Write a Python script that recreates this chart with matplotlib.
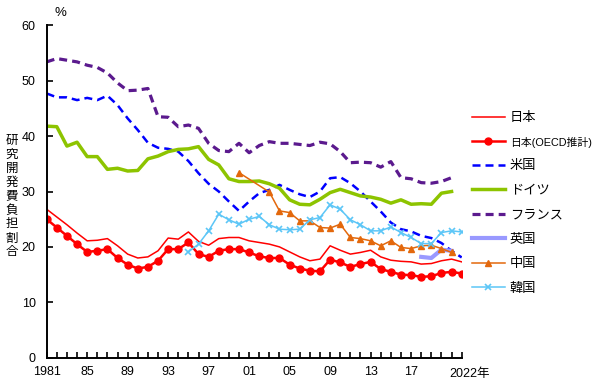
import matplotlib

matplotlib.use("Agg")
import matplotlib.pyplot as plt
import numpy as np

plt.rcParams["font.family"] = ["Liberation Sans", "Noto Sans CJK JP"]

YEARS = list(range(1981, 2023))

JAPAN = [26.8, 25.4, 24.0, 22.5, 21.1, 21.2, 21.5, 20.2, 18.7, 18.0, 18.2, 19.3, 21.6, 21.4,
         22.7, 21.0, 20.3, 21.5, 21.7, 21.7, 21.1, 20.8, 20.5, 20.0, 19.1, 18.2, 17.5, 17.8,
         20.2, 19.4, 18.7, 19.0, 19.4, 18.2, 17.6, 17.4, 17.3, 16.9, 17.0, 17.5, 17.8, 17.3]
JAPAN_OECD = [25.0, 23.5, 22.0, 20.5, 19.1, 19.3, 19.6, 18.0, 16.8, 16.1, 16.4, 17.5, 19.6, 19.6,
              20.8, 18.7, 18.2, 19.3, 19.6, 19.6, 19.0, 18.3, 18.0, 18.0, 16.8, 16.1, 15.7, 15.6,
              17.7, 17.2, 16.4, 16.9, 17.3, 16.0, 15.5, 15.0, 14.9, 14.6, 14.7, 15.3, 15.5, 15.2]
USA = [47.7, 47.0, 47.0, 46.5, 46.9, 46.5, 47.3, 45.6, 43.2, 41.1, 38.8, 37.9, 37.7, 37.2,
       35.5, 33.3, 31.4, 30.0, 28.2, 26.5, 28.2, 29.7, 30.3, 31.2, 30.3, 29.5, 29.0, 30.0,
       32.4, 32.6, 31.5, 30.0, 28.2, 26.4, 24.4, 23.2, 22.8, 22.0, 21.6, 20.7, 19.3, 18.1]
GERMANY = [41.8, 41.7, 38.2, 38.9, 36.3, 36.3, 34.0, 34.2, 33.7, 33.8, 35.9, 36.4, 37.2, 37.6,
           37.7, 38.1, 35.8, 34.8, 32.3, 31.8, 31.8, 31.9, 31.4, 30.6, 28.5, 27.7, 27.6, 28.6,
           29.8, 30.4, 29.8, 29.2, 29.0, 28.6, 27.9, 28.5, 27.7, 27.8, 27.7, 29.7, 30.0, np.nan]
FRANCE = [53.4, 54.0, 53.7, 53.4, 52.8, 52.4, 51.4, 49.6, 48.2, 48.3, 48.6, 43.5, 43.4, 41.7,
          42.0, 41.4, 38.7, 37.4, 37.2, 38.7, 37.0, 38.3, 39.0, 38.7, 38.7, 38.5, 38.3, 38.9,
          38.6, 37.2, 35.2, 35.3, 35.2, 34.4, 35.4, 32.5, 32.3, 31.6, 31.5, 31.8, 32.5, np.nan]
UK_YEARS = [2018, 2019, 2020, 2021]
UK = [18.2, 18.0, 19.5, 19.3]
CHINA_YEARS = [2000] + list(range(2003, 2022))
CHINA = [33.4, 29.9, 26.5, 26.2, 24.7, 24.7, 23.5, 23.4, 24.1, 21.7, 21.5, 21.1, 20.2, 21.1,
         19.9, 19.7, 20.2, 20.3, 19.7, 19.0]
KOREA_YEARS = list(range(1995, 2023))
KOREA = [19.1, 20.5, 22.9, 25.9, 24.9, 24.1, 25.0, 25.5, 24.0, 23.2, 23.1, 23.2, 24.9, 25.3,
         27.6, 26.8, 24.9, 24.0, 22.9, 22.9, 23.6, 22.6, 21.7, 20.6, 20.6, 22.6, 22.9, 22.7]

TICK_YEARS = [1981, 1985, 1989, 1993, 1997, 2001, 2005, 2009, 2013, 2017]
TICK_LABELS = ["1981", "85", "89", "93", "97", "01", "05", "09", "13", "17"]
YLABEL = "研究開発費負担割合"

fig = plt.figure(figsize=(6.0, 3.86), dpi=100)
ax = fig.add_axes([0.0778, 0.0733, 0.6917, 0.8611])

ax.plot(YEARS, JAPAN, color="#FF0000", lw=1.1, label="日本")
ax.plot(YEARS, JAPAN_OECD, color="#FF0000", lw=1.8, marker="o", ms=5, label="日本(OECD推計)")
ax.plot(YEARS, USA, color="#0000FF", lw=1.8, dashes=(3.2, 2.0), label="米国")
ax.plot(YEARS, GERMANY, color="#8DC400", lw=2.5, label="ドイツ")
ax.plot(YEARS, FRANCE, color="#5B1A8E", lw=2.3, dashes=(2.5, 1.6), label="フランス")
ax.plot(UK_YEARS, UK, color="#9999FF", lw=3.0, label="英国")
ax.plot(CHINA_YEARS, CHINA, color="#E3680C", lw=1.1, marker="^", ms=4.5, label="中国")
ax.plot(KOREA_YEARS, KOREA, color="#5CC6F7", lw=1.1, marker="x", ms=4, mew=1.2, label="韓国")

ax.set_xlim(1981, 2022)
ax.set_ylim(0, 60)
ax.set_yticks(range(0, 61, 10))
ax.set_xticks(YEARS)
ax.set_xticklabels([TICK_LABELS[TICK_YEARS.index(y)] if y in TICK_YEARS else "" for y in YEARS])
ax.annotate("2022年", xy=(2022, 0), xycoords=("data", "axes fraction"),
            xytext=(-12, -10), textcoords="offset pixels", ha="left", va="top", fontsize=9)
ax.tick_params(axis="both", direction="in", length=4, width=1.2, labelsize=9)
ax.tick_params(axis="x", pad=6)
ax.tick_params(axis="y", pad=8)
for side in ["top", "right"]:
    ax.spines[side].set_visible(False)
for side in ["left", "bottom"]:
    ax.spines[side].set_linewidth(1.4)

fig.text(60 / 600, 1 - 13 / 386, "%", ha="center", va="center", fontsize=9.5)
for i, ch in enumerate(YLABEL):
    fig.text(12 / 600, 1 - (140 + i * 14) / 386, ch, ha="center", va="center", fontsize=9,
             family="Noto Sans CJK JP")

leg = ax.legend(loc="upper left", bbox_to_anchor=(472 / 600, 1 - 112 / 386),
                bbox_transform=fig.transFigure, frameon=False, fontsize=9.5,
                handlelength=2.5, handletextpad=0.35, labelspacing=0.93, borderpad=0, borderaxespad=0)
leg.get_texts()[1].set_fontsize(7.8)

fig.savefig("out.png", dpi=100)
